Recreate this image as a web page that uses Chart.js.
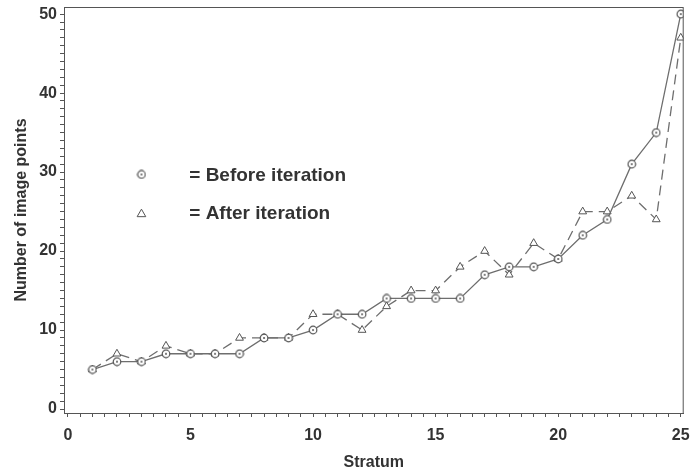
<!DOCTYPE html>
<html lang="en">
<head>
<meta charset="UTF-8">
<title>Image points per stratum</title>
<script src="https://cdn.jsdelivr.net/npm/chart.js"></script>
<style>
    html, body {
        margin: 0;
        padding: 0;
        background: #ffffff;
    }
    #wrap {
        width: 690px;
        height: 475px;
    }
</style>
</head>
<body>
<div id="wrap"><canvas id="strataChart" width="690" height="475"></canvas></div>

<script>
    // strata 1..25 and image point counts
    const strata = [1, 2, 3, 4, 5, 6, 7, 8, 9, 10, 11, 12, 13, 14, 15, 16, 17, 18, 19, 20, 21, 22, 23, 24, 25];
    const beforeIteration = [5, 6, 6, 7, 7, 7, 7, 9, 9, 10, 12, 12, 14, 14, 14, 14, 17, 18, 18, 19, 22, 24, 31, 35, 50];
    const afterIteration = [5, 7, 6, 8, 7, 7, 9, 9, 9, 12, 12, 10, 13, 15, 15, 18, 20, 17, 21, 19, 25, 25, 27, 24, 47];
    const xTickValues = [0, 5, 10, 15, 20, 25];
    const yTickValues = [0, 10, 20, 30, 40, 50];
    const legendLabels = ['= Before iteration', '= After iteration'];

    const inkColor = '#333333';
    const lineColor = '#6e6e6e';
    const axisColor = '#555555';
    const fontFamily = '"Liberation Sans", Arial, sans-serif';

    // circle with a dot in the middle
    function dottedCircle(size) {
        const c = document.createElement('canvas');
        c.width = size;
        c.height = size;
        const g = c.getContext('2d');
        const m = size / 2;
        g.fillStyle = '#ffffff';
        g.strokeStyle = '#555555';
        g.lineWidth = 1.2;
        g.beginPath();
        g.arc(m, m, m - 1.2, 0, Math.PI * 2);
        g.fill();
        g.stroke();
        g.fillStyle = '#555555';
        g.beginPath();
        g.arc(m, m, 1, 0, Math.PI * 2);
        g.fill();
        return c;
    }
    const circleMark = dottedCircle(10);

    function points(ys) {
        return strata.map((s, i) => ({ x: s, y: ys[i] }));
    }

    // tick marks at every step, labels only on the majors
    function steppedTicks(from, to, step) {
        const out = [];
        for (let v = from; v <= to + 1e-9; v += step) out.push({ value: Math.round(v * 10) / 10 });
        return out;
    }

    // keep the plot box fixed, ignore the room chart.js wants for edge labels
    function fixedBox(size, prop) {
        return scale => {
            scale[prop] = size;
            scale.paddingLeft = 0;
            scale.paddingRight = 0;
            scale.paddingTop = 0;
            scale.paddingBottom = 0;
        };
    }

    // frame around the plot plus the inline key
    const framePlugin = {
        id: 'frame',
        afterDraw(chart) {
            const { ctx, chartArea: a, scales } = chart;
            ctx.save();
            ctx.strokeStyle = axisColor;
            ctx.lineWidth = 1;
            ctx.strokeRect(a.left + 0.5, a.top + 0.5, a.right - a.left - 1, a.bottom - a.top);

            const mx = scales.x.getPixelForValue(3);
            const tx = scales.x.getPixelForValue(4.95);
            const y1 = scales.y.getPixelForValue(29.7);
            const y2 = scales.y.getPixelForValue(24.8);

            ctx.drawImage(circleMark, mx - 5, y1 - 5);
            ctx.fillStyle = '#ffffff';
            ctx.strokeStyle = '#555555';
            ctx.lineWidth = 1;
            Chart.helpers.drawPoint(ctx, {
                pointStyle: 'triangle', radius: 5, borderWidth: 1, rotation: 0
            }, mx, y2 + 1);

            ctx.fillStyle = inkColor;
            ctx.font = 'bold 19px ' + fontFamily;
            ctx.textBaseline = 'middle';
            ctx.textAlign = 'left';
            ctx.fillText(legendLabels[0], tx, y1 + 1);
            ctx.fillText(legendLabels[1], tx, y2 + 1);
            ctx.restore();
        }
    };

    const ctx = document.getElementById('strataChart').getContext('2d');
    new Chart(ctx, {
        type: 'line',
        data: {
            datasets: [
                {
                    label: 'Before iteration',
                    data: points(beforeIteration),
                    borderColor: lineColor,
                    borderWidth: 1.3,
                    pointStyle: circleMark,
                    pointRadius: 5,
                    tension: 0,
                    fill: false
                },
                {
                    label: 'After iteration',
                    data: points(afterIteration),
                    borderColor: lineColor,
                    borderWidth: 1.3,
                    borderDash: [10, 6],
                    pointStyle: 'triangle',
                    pointRadius: 4.5,
                    pointBorderColor: '#555555',
                    pointBackgroundColor: '#ffffff',
                    pointBorderWidth: 1,
                    tension: 0,
                    fill: false
                }
            ]
        },
        options: {
            responsive: false,
            animation: false,
            layout: { padding: { top: 7, right: 4, left: 0, bottom: 0 } },
            plugins: {
                legend: { display: false },
                tooltip: { enabled: false }
            },
            scales: {
                x: {
                    type: 'linear',
                    min: -0.16,
                    max: 25.12,
                    afterBuildTicks(scale) { scale.ticks = steppedTicks(0, 25, 0.5); },
                    afterFit: fixedBox(62, 'height'),
                    grid: { drawOnChartArea: false, drawTicks: true, tickLength: 4, color: axisColor },
                    border: { display: true, color: axisColor, width: 1 },
                    ticks: {
                        autoSkip: false,
                        maxRotation: 0,
                        padding: 9,
                        color: inkColor,
                        font: { family: fontFamily, size: 16, weight: 'bold' },
                        callback: v => xTickValues.includes(v) ? String(v) : ''
                    },
                    title: {
                        display: true,
                        text: 'Stratum',
                        color: inkColor,
                        padding: { top: 0, bottom: 3 },
                        font: { family: fontFamily, size: 16, weight: 'bold' }
                    }
                },
                y: {
                    type: 'linear',
                    min: -0.5,
                    max: 50.9,
                    afterBuildTicks(scale) { scale.ticks = steppedTicks(0, 50, 1); },
                    afterFit: fixedBox(64, 'width'),
                    grid: { drawOnChartArea: false, drawTicks: true, tickLength: 4, color: axisColor },
                    border: { display: true, color: axisColor, width: 1 },
                    ticks: {
                        autoSkip: false,
                        padding: 3,
                        color: inkColor,
                        font: { family: fontFamily, size: 16, weight: 'bold' },
                        callback: v => yTickValues.includes(v) ? String(v) : ''
                    },
                    title: {
                        display: true,
                        text: 'Number of image points',
                        color: inkColor,
                        padding: { top: 12, bottom: 0 },
                        font: { family: fontFamily, size: 16, weight: 'bold' }
                    }
                }
            }
        },
        plugins: [framePlugin]
    });
</script>
</body>
</html>
